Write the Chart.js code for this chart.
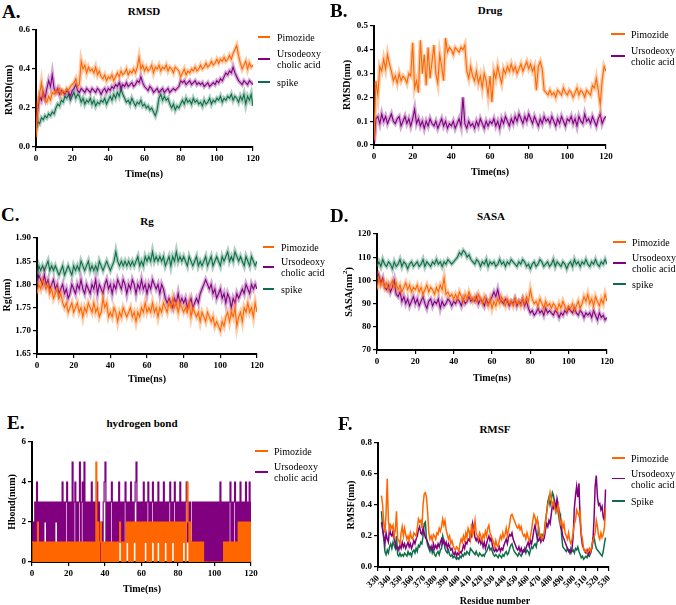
<!DOCTYPE html>
<html>
<head>
<meta charset="utf-8">
<script src="https://cdn.jsdelivr.net/npm/chart.js@4.4.1/dist/chart.umd.min.js"></script>
<style>
body{margin:0;background:#fff}
#fig{position:relative;width:676px;height:605px;overflow:hidden;font-family:'Liberation Serif','Times New Roman',serif;color:#000;background:#fff}
#fig canvas{position:absolute}
.t{position:absolute;white-space:nowrap;transform:translate(-50%,-50%);font-weight:bold;line-height:1}
.ty{position:absolute;white-space:nowrap;transform:translate(-50%,-50%) rotate(-90deg);font-weight:bold;font-size:10px;line-height:1}
.ty sup{font-size:7px}
.letter{position:absolute;font-weight:bold;font-size:19px;line-height:1;transform:translateY(-50%)}
.lg{position:absolute;font-size:10px;line-height:11px;white-space:nowrap;transform:translateY(-50%)}
.sw{position:absolute;height:1.5px}
</style>
</head>
<body>
<div id="fig"></div>
<script>
// colours
const ORANGE = '#FF6600', PURPLE = '#800080', GREEN = '#0E6E47'

// A. RMSD (nm), one value per ns, 0..120
const rmsdPimozide = [0.05,
 0.22,0.27,0.33,0.26,0.24,0.23,0.26,0.24,0.28,0.27,
 0.29,0.28,0.30,0.27,0.29,0.28,0.30,0.29,0.31,0.32,
 0.33,0.35,0.31,0.32,0.44,0.40,0.42,0.38,0.41,0.39,
 0.40,0.38,0.41,0.37,0.39,0.36,0.35,0.37,0.34,0.36,
 0.35,0.37,0.34,0.36,0.38,0.36,0.39,0.37,0.38,0.40,
 0.37,0.39,0.38,0.40,0.38,0.41,0.46,0.40,0.42,0.39,
 0.41,0.39,0.40,0.42,0.38,0.41,0.40,0.42,0.39,0.41,
 0.40,0.42,0.39,0.41,0.40,0.38,0.41,0.40,0.39,0.36,
 0.38,0.40,0.37,0.39,0.38,0.40,0.39,0.41,0.39,0.40,
 0.42,0.40,0.41,0.43,0.41,0.42,0.44,0.42,0.43,0.45,
 0.43,0.45,0.44,0.46,0.44,0.45,0.47,0.45,0.48,0.50,
 0.52,0.47,0.43,0.40,0.42,0.44,0.40,0.43,0.41,0.42]
const rmsdUrso = [0.10,
 0.19,0.26,0.24,0.28,0.25,0.30,0.34,0.31,0.37,0.30,
 0.28,0.30,0.27,0.29,0.28,0.27,0.29,0.28,0.26,0.29,
 0.30,0.32,0.29,0.28,0.30,0.29,0.28,0.30,0.29,0.28,
 0.30,0.29,0.28,0.30,0.29,0.27,0.29,0.30,0.28,0.30,
 0.29,0.31,0.30,0.32,0.31,0.33,0.30,0.32,0.31,0.33,
 0.31,0.32,0.33,0.31,0.32,0.34,0.33,0.36,0.33,0.31,
 0.30,0.29,0.31,0.30,0.28,0.29,0.30,0.28,0.29,0.30,
 0.28,0.29,0.30,0.28,0.29,0.30,0.29,0.30,0.31,0.34,
 0.33,0.34,0.32,0.33,0.34,0.32,0.33,0.34,0.32,0.33,
 0.32,0.33,0.31,0.32,0.33,0.31,0.32,0.33,0.32,0.34,
 0.33,0.35,0.34,0.36,0.38,0.37,0.39,0.38,0.41,0.38,
 0.36,0.34,0.33,0.32,0.34,0.33,0.32,0.34,0.33,0.32]
const rmsdSpike = [0.08,
 0.13,0.12,0.15,0.14,0.16,0.15,0.17,0.16,0.18,0.17,
 0.20,0.22,0.21,0.24,0.23,0.26,0.25,0.27,0.24,0.26,
 0.28,0.25,0.27,0.26,0.23,0.25,0.22,0.24,0.23,0.25,
 0.22,0.24,0.21,0.23,0.22,0.24,0.23,0.25,0.22,0.24,
 0.26,0.24,0.27,0.25,0.28,0.26,0.30,0.27,0.25,0.23,
 0.24,0.22,0.25,0.23,0.21,0.23,0.22,0.24,0.21,0.22,
 0.20,0.21,0.19,0.20,0.18,0.16,0.19,0.25,0.27,0.24,
 0.26,0.24,0.25,0.22,0.20,0.22,0.19,0.21,0.20,0.22,
 0.24,0.22,0.25,0.23,0.24,0.22,0.25,0.23,0.24,0.22,
 0.23,0.21,0.24,0.22,0.23,0.25,0.22,0.24,0.23,0.25,
 0.24,0.26,0.23,0.25,0.24,0.26,0.25,0.27,0.24,0.26,
 0.25,0.23,0.26,0.24,0.27,0.22,0.26,0.24,0.27,0.21]

// B. Drug RMSD (nm)
const drugPimozide = [0.02,
 0.27,0.21,0.33,0.31,0.36,0.32,0.38,0.34,0.31,0.27,
 0.29,0.26,0.30,0.27,0.29,0.28,0.26,0.30,0.29,0.43,
 0.24,0.27,0.22,0.44,0.30,0.38,0.25,0.41,0.28,0.35,
 0.42,0.30,0.26,0.38,0.33,0.27,0.45,0.39,0.41,0.40,
 0.38,0.41,0.40,0.39,0.41,0.40,0.42,0.31,0.28,0.33,
 0.29,0.27,0.31,0.26,0.29,0.24,0.30,0.27,0.21,0.29,
 0.18,0.31,0.28,0.33,0.29,0.26,0.32,0.30,0.33,0.31,
 0.34,0.31,0.33,0.30,0.32,0.34,0.31,0.33,0.35,0.32,
 0.34,0.31,0.33,0.23,0.33,0.35,0.32,0.23,0.22,0.21,
 0.23,0.21,0.22,0.20,0.23,0.22,0.21,0.24,0.22,0.21,
 0.23,0.22,0.20,0.22,0.24,0.21,0.23,0.22,0.20,0.23,
 0.22,0.21,0.25,0.24,0.28,0.23,0.17,0.27,0.33,0.31]
const drugUrso = [0.01,
 0.11,0.12,0.09,0.13,0.10,0.12,0.09,0.11,0.13,0.10,
 0.09,0.11,0.12,0.08,0.10,0.12,0.09,0.11,0.08,0.11,
 0.15,0.09,0.11,0.08,0.10,0.07,0.10,0.08,0.11,0.09,
 0.08,0.10,0.07,0.09,0.11,0.08,0.10,0.07,0.09,0.08,
 0.10,0.07,0.09,0.11,0.08,0.20,0.09,0.07,0.10,0.08,
 0.09,0.07,0.10,0.08,0.11,0.09,0.07,0.10,0.08,0.10,
 0.09,0.11,0.08,0.10,0.07,0.11,0.09,0.12,0.10,0.08,
 0.11,0.09,0.12,0.10,0.13,0.11,0.09,0.12,0.10,0.13,
 0.11,0.09,0.12,0.10,0.08,0.11,0.09,0.12,0.10,0.11,
 0.09,0.12,0.10,0.08,0.11,0.09,0.12,0.10,0.08,0.11,
 0.10,0.12,0.09,0.11,0.08,0.12,0.10,0.09,0.13,0.10,
 0.11,0.09,0.12,0.10,0.08,0.11,0.13,0.09,0.11,0.12]

// C. Rg (nm)
const rgPimozide = [1.78,
 1.80,1.79,1.81,1.80,1.79,1.80,1.78,1.79,1.77,1.78,
 1.79,1.77,1.78,1.76,1.75,1.76,1.74,1.75,1.76,1.74,
 1.75,1.76,1.74,1.75,1.73,1.75,1.74,1.76,1.75,1.74,
 1.76,1.74,1.75,1.73,1.74,1.77,1.75,1.76,1.73,1.74,
 1.73,1.75,1.74,1.72,1.74,1.73,1.75,1.74,1.73,1.74,
 1.75,1.73,1.74,1.72,1.74,1.73,1.75,1.74,1.76,1.74,
 1.75,1.74,1.76,1.74,1.75,1.73,1.75,1.74,1.76,1.75,
 1.74,1.76,1.75,1.77,1.75,1.76,1.74,1.76,1.75,1.74,
 1.75,1.74,1.76,1.73,1.75,1.74,1.73,1.74,1.72,1.74,
 1.73,1.72,1.74,1.73,1.72,1.73,1.71,1.72,1.71,1.70,
 1.72,1.71,1.73,1.74,1.72,1.74,1.73,1.75,1.71,1.73,
 1.74,1.72,1.75,1.74,1.76,1.74,1.75,1.73,1.76,1.74]
const rgUrso = [1.80,
 1.82,1.81,1.80,1.82,1.80,1.81,1.79,1.80,1.81,1.79,
 1.80,1.78,1.79,1.80,1.78,1.79,1.77,1.78,1.80,1.79,
 1.78,1.80,1.79,1.81,1.79,1.78,1.80,1.79,1.78,1.80,
 1.79,1.81,1.78,1.80,1.79,1.78,1.80,1.81,1.79,1.80,
 1.78,1.80,1.79,1.81,1.80,1.79,1.81,1.80,1.78,1.80,
 1.79,1.81,1.80,1.78,1.80,1.79,1.81,1.79,1.80,1.78,
 1.80,1.79,1.81,1.80,1.79,1.80,1.78,1.80,1.79,1.77,
 1.76,1.77,1.76,1.75,1.77,1.76,1.78,1.76,1.77,1.76,
 1.77,1.75,1.76,1.77,1.75,1.76,1.77,1.76,1.78,1.79,
 1.80,1.81,1.80,1.79,1.80,1.78,1.79,1.77,1.78,1.79,
 1.77,1.78,1.76,1.78,1.77,1.75,1.77,1.76,1.78,1.77,
 1.78,1.79,1.78,1.80,1.79,1.78,1.80,1.79,1.80,1.79]
const rgSpike = [1.82,
 1.84,1.83,1.84,1.83,1.84,1.85,1.83,1.84,1.83,1.84,
 1.83,1.82,1.83,1.84,1.82,1.83,1.84,1.83,1.82,1.84,
 1.83,1.84,1.83,1.85,1.84,1.83,1.84,1.85,1.83,1.84,
 1.83,1.84,1.83,1.85,1.84,1.83,1.84,1.85,1.84,1.83,
 1.84,1.85,1.87,1.85,1.84,1.85,1.84,1.85,1.84,1.85,
 1.84,1.85,1.84,1.85,1.86,1.84,1.85,1.84,1.86,1.85,
 1.86,1.85,1.87,1.85,1.86,1.85,1.86,1.85,1.86,1.84,
 1.85,1.86,1.84,1.86,1.85,1.87,1.85,1.86,1.85,1.86,
 1.85,1.84,1.86,1.85,1.84,1.85,1.86,1.84,1.85,1.84,
 1.85,1.86,1.84,1.85,1.86,1.84,1.85,1.86,1.85,1.84,
 1.86,1.85,1.86,1.87,1.85,1.86,1.85,1.87,1.86,1.85,
 1.86,1.85,1.84,1.86,1.85,1.84,1.86,1.85,1.84,1.85]

// D. SASA (nm^2)
const sasaPimozide = [96,
 101,98,100,97,99,96,98,100,97,99,
 96,98,95,97,99,96,98,95,97,96,
 98,95,97,94,96,98,95,97,96,94,
 97,95,98,96,101,94,95,93,94,92,
 94,92,95,93,91,94,92,95,93,91,
 93,91,94,92,90,93,91,89,92,88,
 91,89,92,90,93,91,89,92,90,91,
 89,92,90,91,89,92,90,93,91,96,
 92,90,91,89,92,90,88,91,89,90,
 88,90,89,87,90,88,91,89,87,89,
 88,90,87,89,91,88,90,93,91,94,
 90,92,89,93,91,89,92,90,94,91]
const sasaUrso = [104,
 102,99,101,97,96,98,95,97,100,94,
 93,95,91,93,90,92,89,91,93,90,
 92,89,91,93,90,88,91,92,89,91,
 90,92,88,91,89,90,92,91,89,91,
 90,92,91,89,92,90,91,93,91,92,
 91,93,90,92,91,89,92,90,91,93,
 95,93,96,92,91,90,92,91,89,91,
 90,92,89,91,90,92,89,91,88,86,
 87,85,86,88,86,87,85,88,86,87,
 86,85,87,86,84,86,85,87,86,88,
 87,86,88,86,85,87,86,84,86,85,
 86,84,87,85,83,86,84,85,83,84]
const sasaSpike = [106,
 108,106,109,107,106,108,107,105,108,106,
 107,109,106,108,107,105,107,108,106,107,
 108,106,107,109,106,108,107,106,108,107,
 109,107,108,106,108,107,109,108,107,108,
 109,110,112,111,113,112,110,111,109,108,
 107,109,108,106,108,107,109,106,108,107,
 108,106,107,109,107,108,106,108,107,109,
 108,107,106,108,107,109,108,106,107,105,
 107,108,106,107,109,108,106,107,108,106,
 107,109,106,108,107,106,108,107,105,107,
 108,106,109,107,108,106,108,107,109,107,
 106,108,107,109,107,106,108,107,109,107]

// E. hydrogen bonds, one value per 0.5 ns
const hbPimozide = [
 1,0,1,0,1,0,2,0,1,0, 1,0,1,0,1,0,1,0,1,0, 1,0,1,0,1,0,1,0,1,0, 1,0,1,0,1,0,1,0,1,0,
 1,0,1,0,1,0,1,0,1,0, 1,0,1,0,1,0,1,0,1,0, 1,0,1,0,1,0,1,0,1,0, 5,0,2,0,1,2,0,1,0,1,
 0,1,0,1,0,1,0,1,0,1, 0,1,0,1,0,1,2,1,0,1, 0,1,0,2,1,2,0,2,0,2, 0,2,1,2,0,2,0,2,0,2,
 0,2,0,2,1,2,0,2,0,2, 0,2,1,2,0,2,0,2,1,2, 0,2,0,2,0,2,1,2,0,2, 0,2,0,2,1,2,0,2,0,2,
 0,2,0,2,0,2,1,2,0,2, 4,2,0,2,0,1,0,1,0,1, 0,1,0,1,0,1,0,1,0,0, 0,0,0,0,0,0,0,0,0,0,
 0,0,0,0,0,0,0,0,0,0, 1,0,1,0,1,0,1,0,1,0, 1,0,1,0,1,0,2,0,2,0, 2,0,2,0,2,0,2,0,2,0,
 2]
const hbUrso = [
 1,2,1,3,1,4,1,3,1,3, 1,3,1,3,2,3,1,3,1,3, 1,3,1,3,1,3,2,3,1,3, 1,3,1,4,1,3,1,3,4,1,
 3,1,3,1,5,1,3,4,1,3, 1,3,5,1,3,4,1,5,1,3, 1,3,1,3,1,4,1,3,1,3, 1,4,1,3,1,0,2,0,3,4,
 5,1,3,1,3,1,3,4,1,3, 1,3,1,3,1,4,1,3,1,3, 1,3,4,1,3,1,3,1,4,1, 3,1,3,4,5,1,3,1,3,1,
 3,1,4,1,3,1,3,4,1,3, 1,3,4,1,3,1,3,1,4,1, 3,1,3,1,4,1,3,1,3,1, 3,4,1,3,1,3,4,1,3,1,
 3,1,4,1,3,1,3,1,3,4, 1,3,1,3,1,0,3,0,3,0, 3,0,3,0,3,0,3,0,3,0, 3,0,3,0,3,0,3,0,3,0,
 3,0,3,0,3,0,4,0,3,0, 3,0,3,1,3,0,3,4,0,3, 0,3,4,0,3,0,3,1,4,1, 3,1,3,1,4,1,3,1,4,1,
 3]

// F. RMSF (nm), residues 333..527
const rmsfPimozide = [
 0.46,0.40,0.28,0.22,0.35,0.57,0.30,0.24,0.27,0.25, 0.27,0.20,0.24,0.36,0.18,0.17,0.15,0.22,0.26,0.20,
 0.25,0.21,0.18,0.20,0.17,0.22,0.19,0.18,0.22,0.21, 0.20,0.25,0.31,0.29,0.30,0.25,0.40,0.47,0.48,0.45,
 0.35,0.22,0.18,0.20,0.17,0.21,0.20,0.18,0.22,0.21, 0.25,0.23,0.26,0.31,0.27,0.30,0.24,0.21,0.18,0.20,
 0.15,0.17,0.14,0.12,0.11,0.13,0.12,0.10,0.15,0.18, 0.16,0.20,0.17,0.22,0.19,0.25,0.23,0.18,0.28,0.21,
 0.24,0.30,0.22,0.20,0.18,0.22,0.20,0.17,0.21,0.19, 0.23,0.20,0.25,0.27,0.22,0.20,0.18,0.16,0.13,0.17,
 0.14,0.13,0.17,0.20,0.18,0.22,0.19,0.21,0.25,0.20, 0.24,0.28,0.33,0.34,0.32,0.30,0.28,0.26,0.25,0.27,
 0.24,0.26,0.22,0.20,0.21,0.18,0.22,0.19,0.17,0.20, 0.24,0.30,0.34,0.32,0.28,0.31,0.25,0.20,0.21,0.18,
 0.20,0.22,0.28,0.35,0.40,0.43,0.48,0.44,0.40,0.42, 0.38,0.35,0.37,0.40,0.33,0.28,0.30,0.25,0.28,0.22,
 0.20,0.18,0.22,0.17,0.15,0.18,0.22,0.28,0.30,0.37, 0.35,0.33,0.36,0.22,0.18,0.12,0.10,0.11,0.09,0.10,
 0.12,0.10,0.13,0.17,0.19,0.22,0.30,0.26,0.20,0.18, 0.22,0.19,0.21,0.25,0.38]
const rmsfUrso = [
 0.29,0.24,0.20,0.15,0.22,0.18,0.16,0.25,0.21,0.20, 0.23,0.18,0.15,0.12,0.13,0.11,0.14,0.12,0.16,0.13,
 0.15,0.12,0.14,0.16,0.13,0.15,0.12,0.14,0.17,0.15, 0.18,0.20,0.24,0.26,0.22,0.21,0.25,0.22,0.19,0.18,
 0.16,0.14,0.12,0.13,0.11,0.15,0.12,0.14,0.12,0.15, 0.13,0.16,0.18,0.15,0.17,0.14,0.16,0.12,0.15,0.13,
 0.11,0.12,0.09,0.08,0.10,0.07,0.09,0.08,0.10,0.09, 0.11,0.14,0.12,0.16,0.15,0.18,0.17,0.22,0.20,0.28,
 0.24,0.19,0.17,0.19,0.16,0.18,0.15,0.17,0.13,0.16, 0.12,0.15,0.18,0.20,0.17,0.19,0.14,0.11,0.10,0.12,
 0.10,0.11,0.13,0.10,0.12,0.11,0.14,0.16,0.18,0.15, 0.19,0.21,0.20,0.22,0.18,0.16,0.14,0.12,0.11,0.13,
 0.10,0.12,0.09,0.11,0.10,0.12,0.14,0.16,0.13,0.17, 0.15,0.19,0.24,0.27,0.22,0.18,0.17,0.19,0.16,0.18,
 0.17,0.19,0.24,0.28,0.26,0.30,0.28,0.34,0.40,0.38, 0.42,0.37,0.44,0.40,0.35,0.26,0.24,0.20,0.18,0.16,
 0.14,0.12,0.10,0.11,0.09,0.12,0.20,0.38,0.46,0.52, 0.45,0.54,0.30,0.20,0.14,0.12,0.10,0.09,0.11,0.08,
 0.10,0.09,0.12,0.16,0.30,0.52,0.59,0.45,0.40,0.41, 0.37,0.39,0.32,0.30,0.50]
const rmsfSpike = [
 0.36,0.25,0.18,0.10,0.08,0.11,0.09,0.13,0.15,0.12, 0.16,0.14,0.12,0.20,0.08,0.07,0.09,0.07,0.08,0.07,
 0.09,0.08,0.07,0.10,0.08,0.09,0.07,0.10,0.11,0.09, 0.12,0.10,0.14,0.13,0.16,0.15,0.20,0.28,0.29,0.18,
 0.14,0.12,0.10,0.13,0.09,0.11,0.08,0.07,0.09,0.10, 0.08,0.11,0.12,0.20,0.17,0.12,0.10,0.09,0.11,0.08,
 0.07,0.08,0.06,0.07,0.06,0.05,0.06,0.05,0.07,0.06, 0.08,0.07,0.09,0.08,0.10,0.09,0.08,0.12,0.11,0.10,
 0.09,0.08,0.10,0.08,0.07,0.09,0.08,0.07,0.08,0.07, 0.09,0.10,0.12,0.14,0.11,0.12,0.10,0.08,0.07,0.08,
 0.07,0.06,0.08,0.07,0.06,0.08,0.07,0.09,0.10,0.08, 0.09,0.12,0.14,0.15,0.12,0.10,0.09,0.08,0.07,0.09,
 0.08,0.07,0.09,0.10,0.12,0.09,0.11,0.10,0.08,0.11, 0.13,0.12,0.14,0.15,0.13,0.17,0.26,0.20,0.19,0.21,
 0.20,0.22,0.30,0.35,0.42,0.45,0.40,0.43,0.48,0.46, 0.40,0.38,0.42,0.35,0.30,0.33,0.20,0.13,0.12,0.11,
 0.10,0.12,0.11,0.09,0.12,0.10,0.11,0.09,0.12,0.11, 0.13,0.10,0.08,0.06,0.07,0.05,0.06,0.07,0.06,0.08,
 0.07,0.09,0.12,0.18,0.20,0.15,0.12,0.11,0.10,0.09, 0.08,0.07,0.10,0.15,0.19]

const fig = document.getElementById('fig')
const tickFont = {family: "'Liberation Serif', serif", size: 9, weight: 'bold'}

function panel(p) {
    const yW = 34, padT = 8, padR = 14
    const w = p.box[1] - p.box[0] + yW + padR
    const h = p.box[3] - p.box[2] + padT + p.xH
    const c = document.createElement('canvas')
    c.width = w
    c.height = h
    c.style.left = (p.box[0] - yW) + 'px'
    c.style.top = (p.box[2] - padT) + 'px'
    fig.appendChild(c)

    const axisGrid = {drawOnChartArea: false, drawTicks: true, tickLength: 4, color: '#000', lineWidth: 1.2}
    const axisBorder = {display: true, color: '#000', width: 2}

    // each trajectory: a thin line on top of a soft wider band (same points)
    const datasets = []
    p.sets.forEach(s => {
        const pts = s.data.map((v, i) => ({x: p.x0 + i * p.dx, y: v}))
        datasets.push({label: s.label, data: pts, borderColor: s.color, borderWidth: p.bw || 1.1,
            pointRadius: 0, stepped: !!p.stepped, tension: 0})
        if (p.halo) datasets.push({label: s.label + ' band', data: pts, borderColor: s.color + '55',
            borderWidth: p.halo, pointRadius: 0, tension: 0})
    })

    new Chart(c, {
        type: 'line',
        data: {datasets},
        options: {
            responsive: false,
            animation: false,
            devicePixelRatio: 1,
            events: [],
            parsing: false,
            layout: {padding: {top: padT, right: padR, left: 0, bottom: 0}},
            plugins: {legend: {display: false}, tooltip: {enabled: false}},
            scales: {
                x: {
                    type: 'linear', min: p.xmin, max: p.xmax,
                    ticks: {stepSize: p.xstep, autoSkip: false, color: '#000', font: tickFont, padding: 2,
                        maxRotation: p.rot || 0, minRotation: p.rot || 0},
                    grid: axisGrid, border: axisBorder,
                    afterFit: s => { s.height = p.xH }
                },
                y: {
                    type: 'linear', min: p.ymin, max: p.ymax,
                    ticks: {stepSize: p.ystep, color: '#000', font: tickFont, padding: 2,
                        callback: v => v.toFixed(p.dec)},
                    grid: axisGrid, border: axisBorder,
                    afterFit: s => { s.width = yW }
                }
            }
        }
    })
}

function text(cls, html, x, y, size) {
    const d = document.createElement('div')
    d.className = cls
    d.innerHTML = html
    d.style.left = x + 'px'
    d.style.top = y + 'px'
    if (size) d.style.fontSize = size + 'px'
    fig.appendChild(d)
}

function legend(L) {
    L.items.forEach(it => {
        const sw = document.createElement('div')
        sw.className = 'sw'
        sw.style.left = L.x0 + 'px'
        sw.style.width = (L.x1 - L.x0) + 'px'
        sw.style.top = (it.y - 0.75) + 'px'
        sw.style.background = it.color
        fig.appendChild(sw)
        text('lg', it.text.join('<br>'), L.tx, it.y)
    })
}

const PIM = ['Pimozide'], URSO = ['Ursodeoxy', 'cholic acid']

// A
panel({box: [36, 253, 30, 147], xH: 22, x0: 0, dx: 1, xmin: 0, xmax: 120, xstep: 20,
    ymin: 0, ymax: 0.6, ystep: 0.2, dec: 1, halo: 4,
    sets: [{label: 'Pimozide', data: rmsdPimozide, color: ORANGE},
           {label: 'Ursodeoxycholic acid', data: rmsdUrso, color: PURPLE},
           {label: 'spike', data: rmsdSpike, color: GREEN}]})
// B
panel({box: [374, 606, 26, 145], xH: 22, x0: 0, dx: 1, xmin: 0, xmax: 120, xstep: 20,
    ymin: 0, ymax: 0.5, ystep: 0.1, dec: 1, halo: 4,
    sets: [{label: 'Pimozide', data: drugPimozide, color: ORANGE},
           {label: 'Ursodeoxycholic acid', data: drugUrso, color: PURPLE}]})
// C
panel({box: [37, 257, 238, 354], xH: 22, x0: 0, dx: 1, xmin: 0, xmax: 120, xstep: 20,
    ymin: 1.65, ymax: 1.90, ystep: 0.05, dec: 2, halo: 4,
    sets: [{label: 'Pimozide', data: rgPimozide, color: ORANGE},
           {label: 'Ursodeoxycholic acid', data: rgUrso, color: PURPLE},
           {label: 'spike', data: rgSpike, color: GREEN}]})
// D
panel({box: [377, 607, 234, 350], xH: 22, x0: 0, dx: 1, xmin: 0, xmax: 120, xstep: 20,
    ymin: 70, ymax: 120, ystep: 10, dec: 0, halo: 4,
    sets: [{label: 'Pimozide', data: sasaPimozide, color: ORANGE},
           {label: 'Ursodeoxycholic acid', data: sasaUrso, color: PURPLE},
           {label: 'spike', data: sasaSpike, color: GREEN}]})
// E
panel({box: [32, 251, 442, 562], xH: 22, x0: 0, dx: 0.5, xmin: 0, xmax: 120, xstep: 20,
    ymin: 0, ymax: 6, ystep: 2, dec: 0, stepped: true, bw: 1.2,
    sets: [{label: 'Pimozide', data: hbPimozide, color: ORANGE},
           {label: 'Ursodeoxycholic acid', data: hbUrso, color: PURPLE}]})
// F
panel({box: [378, 609, 443, 567], xH: 30, x0: 333, dx: 1, xmin: 330, xmax: 530, xstep: 10, rot: 45,
    ymin: 0, ymax: 0.8, ystep: 0.2, dec: 1, bw: 1.5,
    sets: [{label: 'Pimozide', data: rmsfPimozide, color: ORANGE},
           {label: 'Ursodeoxycholic acid', data: rmsfUrso, color: PURPLE},
           {label: 'Spike', data: rmsfSpike, color: GREEN}]})

// panel letters
text('letter', 'A.', 2, 10.5)
text('letter', 'B.', 330, 9.5)
text('letter', 'C.', 1, 213.5)
text('letter', 'D.', 330, 214.5)
text('letter', 'E.', 7, 421.5)
text('letter', 'F.', 338, 422.5)

// titles
text('t', 'RMSD', 144, 11, 11)
text('t', 'Drug', 490, 9.5, 11)
text('t', 'Rg', 147, 221, 11)
text('t', 'SASA', 491, 216, 11)
text('t', 'hydrogen bond', 142, 423, 11)
text('t', 'RMSF', 495, 429, 11)

// axis titles
text('t', 'Time(ns)', 144, 174, 10)
text('t', 'Time(ns)', 490, 171.5, 10)
text('t', 'Time(ns)', 147, 379, 10)
text('t', 'Time(ns)', 492, 377.5, 10)
text('t', 'Time(ns)', 142, 589, 10)
text('t', 'Residue number', 495, 601, 10)
text('ty', 'RMSD(nm)', 8.5, 90)
text('ty', 'RMSD(nm)', 347, 85)
text('ty', 'Rg(nm)', 7, 295)
text('ty', 'SASA(nm<sup>2</sup>)', 348, 292)
text('ty', 'Hbond(num)', 11.5, 502)
text('ty', 'RMSF(nm)', 351, 505)

// legends
legend({x0: 258, x1: 270, tx: 277, items: [
    {y: 37, color: ORANGE, text: PIM}, {y: 59, color: PURPLE, text: URSO}, {y: 82, color: GREEN, text: ['spike']}]})
legend({x0: 611, x1: 625, tx: 631, items: [
    {y: 34, color: ORANGE, text: PIM}, {y: 56, color: PURPLE, text: URSO}]})
legend({x0: 263, x1: 274, tx: 281, items: [
    {y: 247, color: ORANGE, text: PIM}, {y: 267, color: PURPLE, text: URSO}, {y: 289, color: GREEN, text: ['spike']}]})
legend({x0: 613, x1: 626, tx: 632, items: [
    {y: 242, color: ORANGE, text: PIM}, {y: 263, color: PURPLE, text: URSO}, {y: 284, color: GREEN, text: ['spike']}]})
legend({x0: 255, x1: 268, tx: 274, items: [
    {y: 451, color: ORANGE, text: PIM}, {y: 472, color: PURPLE, text: URSO}]})
legend({x0: 612, x1: 625, tx: 631, items: [
    {y: 458, color: ORANGE, text: PIM}, {y: 478.5, color: PURPLE, text: URSO}, {y: 501, color: GREEN, text: ['Spike']}]})
</script>
</body>
</html>
